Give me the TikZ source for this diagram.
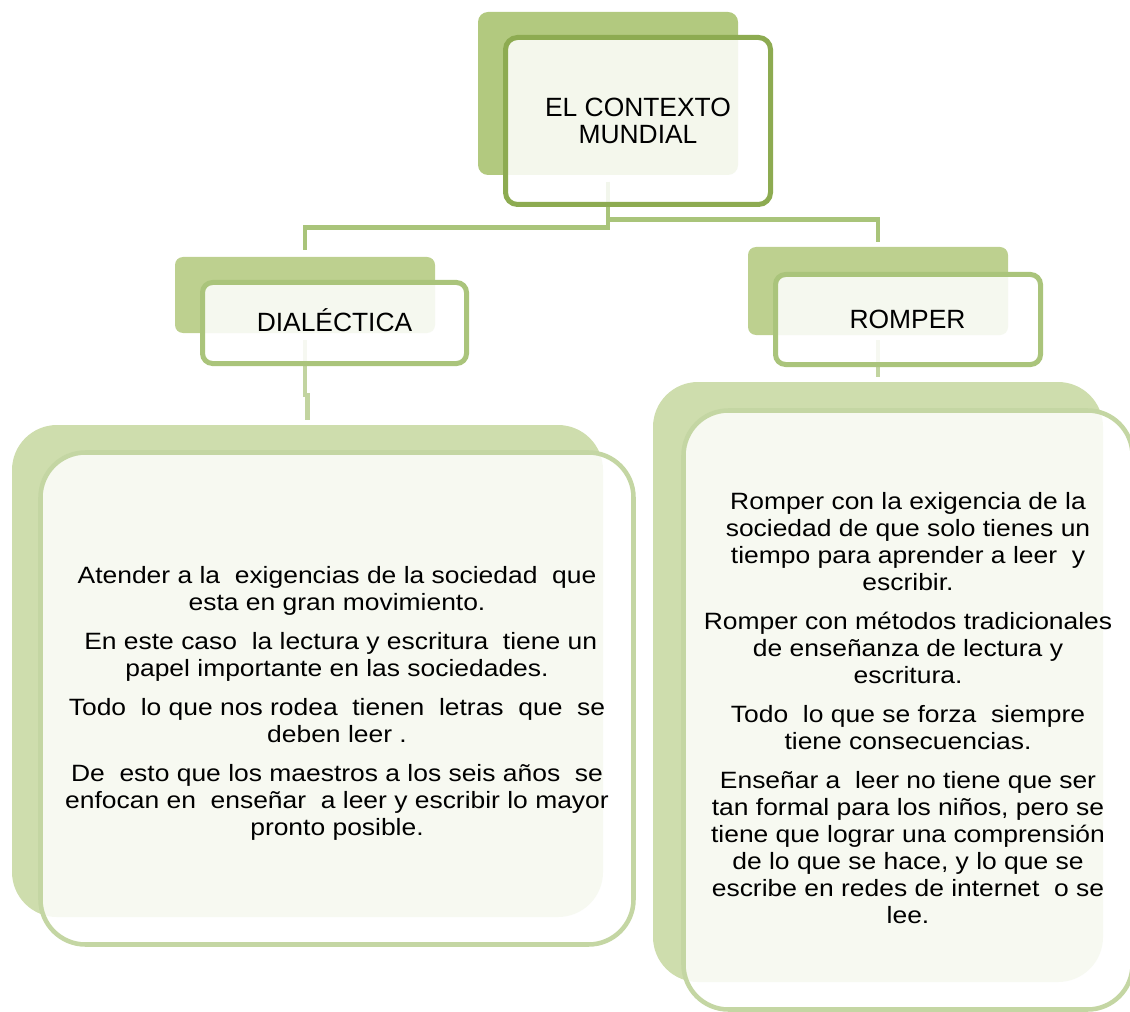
\documentclass[tikz,border=0pt]{standalone}
\usepackage{fontspec}
\setmainfont{Liberation Sans}
\newfontfamily\bodyfont[FakeStretch=1.12]{Liberation Sans}
\usetikzlibrary{calc,backgrounds}
\definecolor{topback}{HTML}{B2C97F}
\definecolor{topline}{HTML}{8DAB51}
\definecolor{midback}{HTML}{BDD08F}
\definecolor{midline}{HTML}{AAC47B}
\definecolor{bigback}{HTML}{CEDDAD}
\definecolor{bigline}{HTML}{C4D6A3}
\definecolor{conntop}{HTML}{A9C47A}
\definecolor{connlow}{HTML}{C2D4A0}
\begin{document}
\begin{tikzpicture}[x=0.75pt,y=-0.75pt,
  shapebox/.style={rectangle,inner sep=0pt,outer sep=0pt},
  backtop/.style={shapebox,fill=topback,rounded corners=7.5pt},
  backmid/.style={shapebox,fill=midback,rounded corners=6pt},
  backbig/.style={shapebox,fill=bigback,rounded corners=33.75pt},
  fronttop/.style={shapebox,fill=white,fill opacity=0.86,draw=topline,line width=3.75pt,rounded corners=9pt},
  frontmid/.style={shapebox,fill=white,fill opacity=0.86,draw=midline,line width=3.75pt,rounded corners=7.5pt},
  frontbig/.style={shapebox,fill=white,fill opacity=0.84,draw=bigline,line width=3.4pt,rounded corners=33.75pt},
  conntopline/.style={draw=conntop,line width=3.6pt},
  connlowline/.style={draw=connlow,line width=3.3pt},
  headtext/.style={inner sep=0pt,align=center,font=\fontsize{19.8pt}{20.25pt}\selectfont},
  bodytext/.style={inner sep=0pt,align=center,font=\bodyfont\fontsize{17.7pt}{20.2pt}\selectfont}
]
\useasboundingbox (0,0) rectangle (1130,1012);

% back shapes
\node[backtop, minimum width=195pt, minimum height=122.25pt] (ctxB) at (608,93.5) {};
\node[backmid, minimum width=195pt, minimum height=57pt] (dialB) at (305,295) {};
\node[backmid, minimum width=195pt, minimum height=66pt] (rompB) at (878,291) {};
\node[backbig, minimum width=443.25pt, minimum height=369pt] (leftB) at (307.5,671) {};
\node[backbig, minimum width=337.5pt, minimum height=450pt] (rightB) at (878,682) {};

% front boxes
\node[fronttop, minimum width=198.75pt, minimum height=125.25pt] (ctx) at (638,121) {};
\node[frontmid, minimum width=198pt, minimum height=60.75pt] (dial) at (334.5,323) {};
\node[frontmid, minimum width=198.75pt, minimum height=67.5pt] (romp) at (908,319.5) {};
\node[frontbig, minimum width=444.75pt, minimum height=369pt] (left) at (337,698.5) {};
\node[frontbig, minimum width=336.75pt, minimum height=449.25pt] (right) at (908,710) {};

% connectors behind the front boxes
\begin{pgfonlayer}{background}
\draw[conntopline] ($(ctx.south)+(-30,-22.5)$) -- ++(0,45.5) -| ($(dialB.north)+(0,-7)$);
\draw[conntopline] ($(ctx.south)+(-30,-22.5)$) -- ++(0,37.5) -| ($(rompB.north)+(0,-5)$);
\draw[connlowline] ($(dial.south)+(-29.5,-23.5)$) -- ++(0,55) -| ($(leftB.north)+(0,-5)$);
\draw[connlowline] ($(romp.south)+(-30,-24.5)$) -- ($(rightB.north)+(0,-5)$);
\end{pgfonlayer}

% texts
\node[headtext] (ctxT) at (638,121) {EL CONTEXTO\\MUNDIAL};
\node[headtext, anchor=base] (dialT) at (334.5,331) {DIALÉCTICA};
\node[headtext, anchor=base] (rompT) at (907.5,328) {ROMPER};

\node[bodytext] (leftT) at (337,703.5) {Atender a la~ exigencias de la sociedad~ que\\
esta en gran movimiento.\\[9.1pt]
~En este caso~ la lectura y escritura~ tiene un\\
papel importante en las sociedades.\\[9.1pt]
Todo~ lo que nos rodea~ tienen~ letras~ que~ se\\
deben leer .\\[9.1pt]
De~ esto que los maestros a los seis años~ se\\
enfocan en~ enseñar~ a leer y escribir lo mayor\\
pronto posible.};

\node[bodytext] (rightT) at (908,708) {Romper con la exigencia de la\\
sociedad de que solo tienes un\\
tiempo para aprender a leer~ y\\
escribir.\\[9.1pt]
Romper con métodos tradicionales\\
de enseñanza de lectura y\\
escritura.\\[9.1pt]
Todo~ lo que se forza~ siempre\\
tiene consecuencias.\\[9.1pt]
Enseñar a~ leer no tiene que ser\\
tan formal para los niños, pero se\\
tiene que lograr una comprensión\\
de lo que se hace, y lo que se\\
escribe en redes de internet~ o se\\
lee.};
\end{tikzpicture}
\end{document}
